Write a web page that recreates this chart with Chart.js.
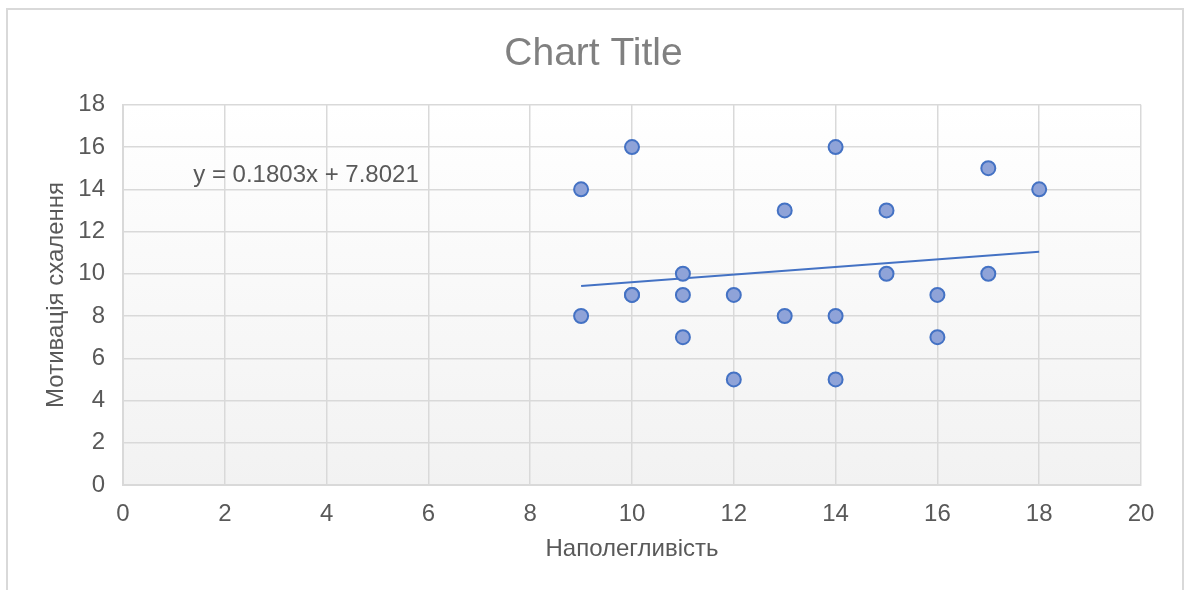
<!DOCTYPE html>
<html>
<head>
<meta charset="utf-8">
<script src="https://cdn.jsdelivr.net/npm/chart.js@4/dist/chart.umd.min.js"></script>
<style>
  html, body { margin: 0; padding: 0; background: #ffffff; }
  #wrap { width: 1187px; height: 590px; }
</style>
</head>
<body>
<div id="wrap"><canvas id="chart" width="1187" height="590"></canvas></div>
<script>
// Наполегливість (x) vs мотивація схалення (y)
const persistence = [9, 9, 10, 10, 10, 11, 11, 11, 12, 12, 13, 13, 14, 14, 14, 15, 15, 16, 16, 17, 17, 18];
const motivation  = [14, 8, 16, 9, 9, 10, 9, 7, 9, 5, 13, 8, 16, 8, 5, 13, 10, 9, 7, 15, 10, 14];

// Linear trendline coefficients (as shown in the equation label)
const trendSlope = 0.1803;
const trendIntercept = 7.8021;
const trendLabel = 'y = 0.1803x + 7.8021';
const trendLabelAt = { x: 1.38, y: 14.65 };

const xTicksMax = 20;
const yTicksMax = 18;

const FONT = "'Liberation Sans', Arial, sans-serif";
const TEXT = '#595959';
const GRID = '#d9d9d9';

const points = persistence.map((x, i) => ({ x, y: motivation[i] }));
const xMin = Math.min(...persistence);
const xMax = Math.max(...persistence);
const trend = [xMin, xMax].map(x => ({ x, y: trendSlope * x + trendIntercept }));

const frameAndBackground = {
  id: 'frameAndBackground',
  beforeDraw(chart) {
    const { ctx, chartArea: a } = chart;
    ctx.save();
    // outer chart frame
    ctx.strokeStyle = GRID;
    ctx.lineWidth = 2;
    ctx.strokeRect(7, 9, 1176, 600);
    // plot area gradient
    const g = ctx.createLinearGradient(0, a.top, 0, a.bottom);
    g.addColorStop(0, '#ffffff');
    g.addColorStop(1, '#f2f2f2');
    ctx.fillStyle = g;
    ctx.fillRect(a.left, a.top, a.right - a.left, a.bottom - a.top);
    ctx.restore();
  }
};

const equationLabel = {
  id: 'equationLabel',
  afterDatasetsDraw(chart) {
    const { ctx, scales } = chart;
    ctx.save();
    ctx.font = '24px ' + FONT;
    ctx.fillStyle = TEXT;
    ctx.textAlign = 'left';
    ctx.textBaseline = 'middle';
    ctx.fillText(trendLabel, scales.x.getPixelForValue(trendLabelAt.x), scales.y.getPixelForValue(trendLabelAt.y));
    ctx.restore();
  }
};

new Chart(document.getElementById('chart'), {
  type: 'scatter',
  data: {
    datasets: [
      {
        label: 'Мотивація схалення',
        data: points,
        pointRadius: 7,
        pointHoverRadius: 7,
        pointBackgroundColor: '#8fa3d8',
        pointBorderColor: '#4472c4',
        pointBorderWidth: 2,
        order: 1
      },
      {
        label: 'Linear',
        data: trend,
        showLine: true,
        borderColor: '#4472c4',
        borderWidth: 2,
        pointRadius: 0,
        fill: false,
        order: 2
      }
    ]
  },
  options: {
    responsive: false,
    animation: false,
    events: [],
    layout: { padding: 0 },
    plugins: {
      legend: { display: false },
      tooltip: { enabled: false },
      title: {
        display: true,
        text: 'Chart Title',
        color: '#808080',
        font: { family: FONT, size: 39, weight: 'normal', lineHeight: 1.2 },
        padding: { top: 31, bottom: 27 }
      }
    },
    scales: {
      x: {
        type: 'linear',
        min: 0,
        max: xTicksMax,
        ticks: { stepSize: 2, color: TEXT, font: { family: FONT, size: 24 }, padding: 15, maxRotation: 0 },
        grid: { color: GRID, lineWidth: 1.5, drawTicks: false },
        border: { color: GRID, width: 2 },
        title: {
          display: true,
          text: 'Наполегливість',
          color: TEXT,
          font: { family: FONT, size: 24, lineHeight: 1.2 },
          padding: { top: 0, bottom: 26 }
        },
        afterFit(scale) {
          scale.height = 105;
          // keep the plot's right edge clear of the frame
          scale.paddingRight = 46;
        }
      },
      y: {
        type: 'linear',
        min: 0,
        max: yTicksMax,
        ticks: { stepSize: 2, color: TEXT, font: { family: FONT, size: 24 }, padding: 18 },
        grid: { color: GRID, lineWidth: 1.5, drawTicks: false },
        border: { color: GRID, width: 2 },
        title: {
          display: true,
          text: 'Мотивація схалення',
          color: TEXT,
          font: { family: FONT, size: 24, lineHeight: 1.2 },
          padding: { top: 42, bottom: 0 }
        },
        afterFit(scale) { scale.width = 123; }
      }
    }
  },
  plugins: [frameAndBackground, equationLabel]
});
</script>
</body>
</html>
